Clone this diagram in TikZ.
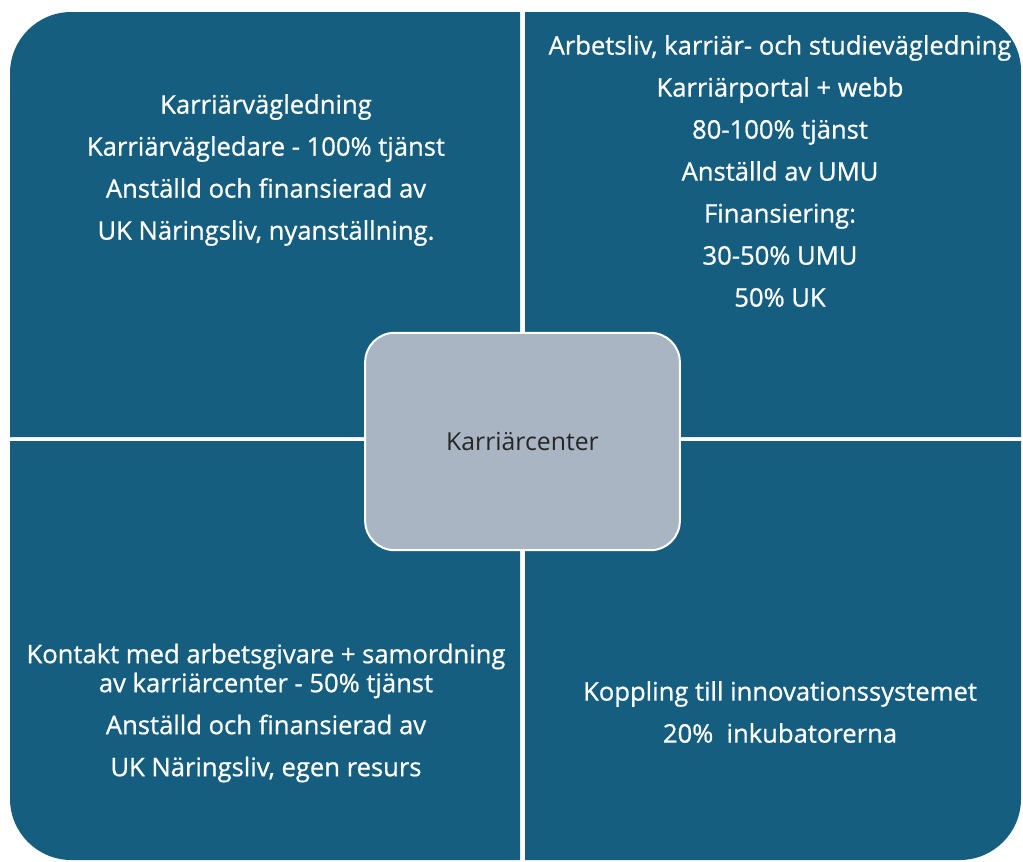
\documentclass[tikz,border=0pt]{standalone}
\usepackage{fontspec}
\setmainfont{Open Sans}
\newfontfamily\quadfont[FakeBold=0.8]{Open Sans}
\definecolor{quadblue}{RGB}{22,94,128}
\definecolor{hubgray}{RGB}{169,181,194}
\definecolor{hubtext}{RGB}{38,38,38}
\tikzset{
  quad/.style={fill=quadblue},
  quadtext/.style={text=white, align=center, font=\quadfont\fontsize{19.2}{21.75}\selectfont},
  hub/.style={draw=white, line width=1.5pt, fill=hubgray, rounded corners=22pt,
    minimum width=236pt, minimum height=163pt, text=hubtext,
    font=\fontsize{18.6}{21.75}\selectfont}
}
\begin{document}
\begin{tikzpicture}[x=0.75pt,y=-0.75pt]
  \useasboundingbox (0,0) rectangle (1023,861);
  % four quadrants
  \fill[quad] (10,437) [rounded corners=46pt] -- (10,12) [sharp corners] -- (520,12) -- (520,437) -- cycle;
  \fill[quad] (525,437) -- (525,12) [rounded corners=44pt] -- (1021,12) [sharp corners] -- (1021,437) -- cycle;
  \fill[quad] (10,441) -- (520,441) -- (520,860) [rounded corners=46pt] -- (10,860) [sharp corners] -- cycle;
  \fill[quad] (525,441) -- (1021,441) [rounded corners=46pt] -- (1021,860) [sharp corners] -- (525,860) -- cycle;
  % texts
  \node[quadtext] (vagledning) at (266,170) {Karriärvägledning\\[9.75pt]
    Karriärvägledare - 100\% tjänst\\[9.75pt]
    Anställd och finansierad av\\[9.75pt]
    UK Näringsliv, nyanställning.};
  \node[quadtext] (arbetsliv) at (780,171) {Arbetsliv, karriär- och studievägledning\\[9.75pt]
    Karriärportal + webb\\[9.75pt]
    80-100\% tjänst\\[9.75pt]
    Anställd av UMU\\[9.75pt]
    Finansiering:\\[9.75pt]
    30-50\% UMU\\[9.75pt]
    50\% UK};
  \node[quadtext] (kontakt) at (266,713) {Kontakt med arbetsgivare + samordning\\
    av karriärcenter - 50\% tjänst\\[9.75pt]
    Anställd och finansierad av\\[9.75pt]
    UK Näringsliv, egen resurs};
  \node[quadtext] (koppling) at (780,712) {Koppling till innovationssystemet\\[9.75pt]
    20\%\ \ inkubatorerna};
  % centre
  \node[hub] (center) at (522.5,441.5) {Karriärcenter};
\end{tikzpicture}
\end{document}
